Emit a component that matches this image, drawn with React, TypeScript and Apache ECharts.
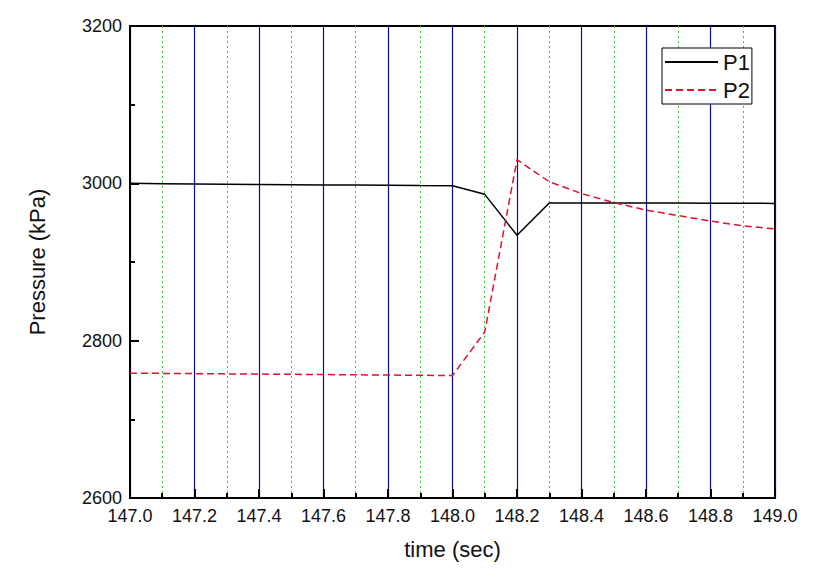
import React, { useEffect, useRef } from "react";
import * as echarts from "echarts";

const times = [147.0, 147.1, 147.2, 147.3, 147.4, 147.5, 147.6, 147.7, 147.8, 147.9, 148.0, 148.1, 148.2, 148.3, 148.4, 148.5, 148.6, 148.7, 148.8, 148.9, 149.0];
const p1 = [3000, 2999.6, 2999.2, 2998.9, 2998.6, 2998.3, 2998, 2997.8, 2997.5, 2997.2, 2997, 2986, 2934, 2975, 2975, 2975, 2975, 2975, 2974.8, 2974.6, 2974.5];
const p2 = [2758.7, 2758.4, 2758.1, 2757.8, 2757.5, 2757.2, 2756.9, 2756.6, 2756.3, 2756, 2755.7, 2811, 3030, 3002, 2987, 2975.5, 2966, 2959, 2952, 2946, 2942];
const seriesNames = ["P1", "P2"];
const xTitle = "time (sec)";
const yTitle = "Pressure (kPa)";

const FONT = "'Liberation Sans', Arial, sans-serif";

export default function App() {
  const ref = useRef<HTMLDivElement>(null);
  useEffect(() => {
    document.body.style.margin = "0";
    if (!ref.current) return;
    const chart = echarts.init(ref.current, undefined, { renderer: "svg" });
    const pair = (ys: number[]) => times.map((t, i) => [t, ys[i]]);
    chart.setOption({
      animation: false,
      backgroundColor: "#ffffff",
      textStyle: { fontFamily: FONT },
      grid: {
        left: 130,
        right: 56,
        top: 26,
        bottom: 83,
        show: true,
        borderColor: "#000",
        borderWidth: 2,
        backgroundColor: "transparent",
      },
      legend: {
        orient: "vertical",
        left: 662,
        top: 48,
        data: seriesNames,
        itemWidth: 53,
        itemHeight: 14,
        itemGap: 6,
        padding: [3, 2, 3, 2],
        borderColor: "#000",
        borderWidth: 1,
        borderRadius: 0,
        backgroundColor: "#fff",
        itemStyle: { opacity: 0, borderWidth: 0 },
        textStyle: { fontSize: 22, color: "#111", fontFamily: FONT },
      },
      xAxis: {
        type: "value",
        min: 147,
        max: 149,
        interval: 0.2,
        name: xTitle,
        nameLocation: "middle",
        nameGap: 40,
        nameTextStyle: { fontSize: 22, color: "#111", fontFamily: FONT },
        axisLine: { show: true, onZero: false, lineStyle: { color: "#000", width: 2 } },
        axisTick: { show: true, inside: true, length: 9, lineStyle: { color: "#000", width: 2 } },
        minorTick: { show: true, splitNumber: 2, length: 5, lineStyle: { color: "#000", width: 2 } },
        axisLabel: {
          fontSize: 18,
          color: "#111",
          margin: 9,
          fontFamily: FONT,
          formatter: (v: number) => v.toFixed(1),
        },
        splitLine: { show: true, lineStyle: { color: "#0a0a9a", width: 1.2 } },
        minorSplitLine: { show: true, lineStyle: { color: "#33cc33", width: 1, type: [2, 3] } },
      },
      yAxis: {
        type: "value",
        min: 2600,
        max: 3200,
        interval: 200,
        name: yTitle,
        nameLocation: "middle",
        nameGap: 82,
        nameTextStyle: { fontSize: 22, color: "#111", fontFamily: FONT },
        axisLine: { show: true, lineStyle: { color: "#000", width: 2 } },
        axisTick: { show: true, inside: true, length: 9, lineStyle: { color: "#000", width: 2 } },
        minorTick: { show: true, splitNumber: 2, length: 5, lineStyle: { color: "#000", width: 2 } },
        axisLabel: {
          fontSize: 18,
          color: "#111",
          margin: 8,
          fontFamily: FONT,
          formatter: (v: number) => String(v),
        },
        splitLine: { show: false },
      },
      series: [
        {
          name: seriesNames[0],
          type: "line",
          data: pair(p1),
          symbol: "none",
          lineStyle: { color: "#000", width: 1.5, type: "solid" },
          itemStyle: { color: "#000" },
          z: 3,
        },
        {
          name: seriesNames[1],
          type: "line",
          data: pair(p2),
          symbol: "none",
          lineStyle: { color: "#e0102e", width: 1.5, type: [7, 4] },
          itemStyle: { color: "#e0102e" },
          z: 4,
        },
      ],
    });
    return () => chart.dispose();
  }, []);
  return <div ref={ref} style={{ width: 831, height: 581 }} />;
}
